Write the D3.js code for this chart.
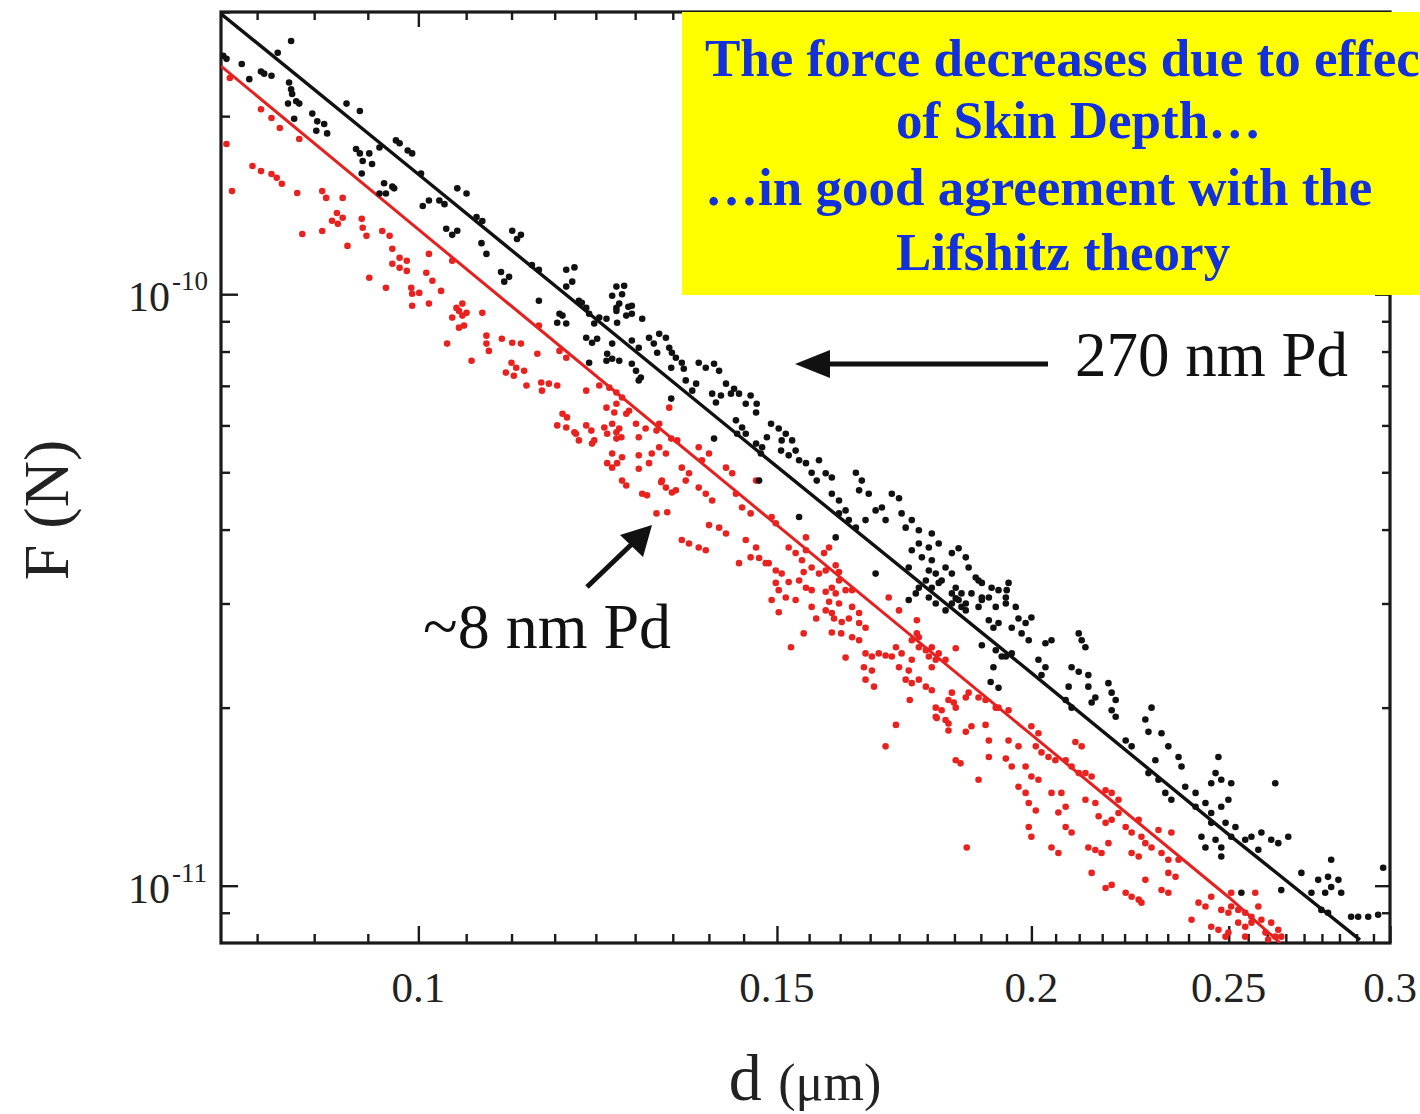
<!DOCTYPE html>
<html>
<head>
<meta charset="utf-8">
<script src="https://cdn.jsdelivr.net/npm/d3@7"></script>
<style>
  body { margin: 0; background: #fff; }
  svg { display: block; }
</style>
</head>
<body>
<svg id="chart" width="1420" height="1114"></svg>
<script>
// separation d (µm) and force F (pN)

// 270 nm Pd film (black)
const pd270 = [
  [0.0866,268],[0.0853,256],[0.0802,253],[0.0805,250],[0.0819,245],[0.0826,231],[0.0837,238],[0.0840,236],
  [0.0847,234],[0.0864,228],[0.0866,222],[0.0867,218],[0.0871,212],[0.0863,210],[0.0874,210],[0.0869,198],
  [0.0887,202],[0.0892,196],[0.0891,189],[0.0899,194],[0.0902,187],[0.0922,210],[0.0936,204],[0.0932,176],
  [0.0936,173],[0.0946,173],[0.0939,168],[0.0949,166],[0.0938,160],[0.0957,177],[0.0975,182],[0.0979,180],
  [0.0988,175],[0.0993,173],[0.0962,154],[0.0971,152],[0.0964,148],[0.0973,151],[0.0957,148],[0.1003,160],
  [0.1012,144],[0.1005,141],[0.1024,144],[0.1030,142],[0.1045,151],[0.1056,148],[0.1032,129],[0.1039,126],
  [0.1045,128],[0.1074,122],[0.1080,117],[0.1068,135],[0.1075,133],[0.1112,128],[0.1123,126],[0.1118,124],
  [0.1098,109],[0.1108,107],[0.1102,105],[0.1137,112],[0.1146,110],[0.1182,110],[0.1193,111],[0.1190,105],
  [0.1182,103],[0.1209,94.8],[0.1199,97.5],[0.1251,103],[0.1259,100],[0.1255,96.4],[0.1273,92.7],[0.1146,97.5],
  [0.1173,92.7],[0.1177,92.0],[0.1170,89.5],[0.1182,89.2],[0.1203,96.7],[0.1213,92.7],[0.1227,91.3],[0.1220,89.2],
  [0.1265,92.0],[0.1251,94.8],[0.1209,84.4],[0.1217,82.8],[0.1224,84.1],[0.1238,79.3],[0.1245,77.8],[0.1237,77.2],
  [0.1273,83.5],[0.1283,81.2],[0.1298,84.4],[0.1313,85.7],[0.1323,84.4],[0.1332,79.6],[0.1279,74.2],[0.1286,72.3],
  [0.1283,71.5],[0.1331,66.6],[0.1213,76.6],[0.1245,99.4],[0.1262,103.3],[0.1268,95.2],[0.1251,93.7],[0.1273,95.6],
  [0.1237,90.9],[0.1252,89.5],[0.1288,90.9],[0.1305,82.5],[0.1328,81.2],[0.1310,79.6],[0.1245,82.5],[0.1255,77.2],
  [0.1338,78.1],[0.1347,76.6],[0.1350,74.8],[0.1331,75.1],[0.1273,76.3],[0.1373,76.6],[0.1384,75.1],[0.1397,76.3],
  [0.1405,74.2],[0.1353,71.5],[0.1369,70.6],[0.1363,68.7],[0.1394,67.9],[0.1408,67.4],[0.1400,65.6],[0.1416,70.6],
  [0.1429,69.2],[0.1424,67.9],[0.1437,67.9],[0.1448,65.3],[0.1456,67.4],[0.1466,65.3],[0.1465,63.1],[0.1432,61.2],
  [0.1442,59.5],[0.1434,58.1],[0.1448,58.1],[0.1397,57.0],[0.1465,55.9],[0.1475,55.1],[0.1473,53.8],[0.1483,57.3],
  [0.1490,60.4],[0.1503,59.3],[0.1515,58.1],[0.1508,56.6],[0.1526,56.6],[0.1507,54.4],[0.1520,53.4],[0.1532,54.4],
  [0.1538,52.4],[0.1550,51.8],[0.1560,49.9],[0.1573,52.4],[0.1569,48.4],[0.1585,49.8],[0.1596,49.0],[0.1640,49.9],
  [0.1651,48.4],[0.1646,46.6],[0.1596,46.0],[0.1609,44.8],[0.1621,43.1],[0.1609,42.6],[0.1627,41.5],[0.1640,40.3],
  [0.1658,41.5],[0.1664,46.0],[0.1677,43.1],[0.1689,43.6],[0.1696,41.5],[0.1708,46.0],[0.1722,45.2],[0.1727,42.6],
  [0.1747,41.5],[0.1735,40.3],[0.1761,39.9],[0.1761,37.9],[0.1781,37.3],[0.1767,35.9],[0.1787,35.5],[0.1795,33.7],
  [0.1815,34.5],[0.1828,33.7],[0.1807,32.8],[0.1787,39.4],[0.1801,37.9],[0.1863,34.5],[0.1878,33.2],[0.1891,32.5],
  [0.1869,31.2],[0.1906,30.7],[0.1927,31.6],[0.1761,31.9],[0.1781,30.7],[0.1795,30.0],[0.1815,29.2],[0.1828,31.2],
  [0.1842,30.4],[0.1857,29.2],[0.1677,33.7],[0.1538,42.0],[0.1603,38.8],[0.1470,48.4],[0.1741,30.4],[0.1755,31.2],
  [0.1775,32.8],[0.1787,31.9],[0.1801,32.5],[0.1836,30.6],[0.1857,30.0],[0.1884,32.8],[0.1912,31.9],[0.1949,32.5],
  [0.1891,30.4],[0.1921,29.6],[0.1943,30.0],[0.1906,28.1],[0.1927,27.8],[0.1891,25.5],[0.1921,25.0],[0.1943,24.4],
  [0.1956,24.7],[0.1910,22.1],[0.1927,21.6],[0.1828,36.5],[0.1842,37.2],[0.1857,35.9],[0.1747,36.9],[0.1741,34.5],
  [0.1781,34.1],[0.1836,31.9],[0.1848,31.2],[0.1828,30.0],[0.1848,29.6],[0.1891,30.7],[0.1884,29.6],[0.1945,31.6],
  [0.1943,30.7],[0.1916,27.3],[0.1965,29.6],[0.1971,28.3],[0.1987,27.8],[0.2000,28.4],[0.1956,27.3],[0.1978,26.7],
  [0.1994,26.0],[0.2032,25.7],[0.2046,26.0],[0.1934,24.4],[0.1916,23.4],[0.2016,24.1],[0.2032,23.4],[0.2023,22.7],
  [0.2110,26.7],[0.2126,25.3],[0.2117,26.0],[0.2093,23.4],[0.2110,23.0],[0.2133,22.7],[0.2086,21.7],[0.2133,21.7],
  [0.2150,20.8],[0.2141,20.4],[0.2190,21.2],[0.2200,20.6],[0.2079,20.6],[0.2093,20.0],[0.2182,22.0],[0.2190,19.8],
  [0.2200,19.3],[0.2291,20.0],[0.2275,19.1],[0.2283,18.2],[0.2317,18.1],[0.2335,17.2],[0.2362,16.5],[0.2370,15.9],
  [0.2225,17.6],[0.2240,17.2],[0.2301,16.3],[0.2283,15.5],[0.2309,15.1],[0.2327,14.35],[0.2343,13.97],[0.2380,14.7],
  [0.2408,14.35],[0.2451,14.9],[0.2471,16.5],[0.2463,15.5],[0.2479,15.1],[0.2507,14.9],[0.2408,13.6],[0.2435,13.8],
  [0.2451,13.27],[0.2479,13.6],[0.2499,13.97],[0.2451,12.77],[0.2491,12.77],[0.2519,12.57],[0.2424,12.1],[0.2435,11.6],
  [0.2463,11.96],[0.2479,11.6],[0.2507,12.1],[0.2547,11.96],[0.2565,12.1],[0.2594,12.3],[0.2623,11.96],[0.2644,11.8],
  [0.2674,12.1],[0.2585,11.5],[0.2635,14.9],[0.2536,9.73],[0.2653,9.83],[0.2714,10.51],[0.2766,10.23],[0.2797,10.35],
  [0.2830,10.23],[0.2807,9.95],[0.2788,9.73],[0.2839,9.73],[0.2807,11.06],[0.2776,9.10],[0.2797,9.00],[0.2871,8.86],
  [0.2894,8.86],[0.2927,8.86],[0.2960,8.93],[0.2977,10.72],[0.2745,9.73],[0.2479,11.2]
];

// ~8 nm Pd film (red)
const pd8 = [
  [0.0808,232],[0.0837,205.5],[0.0847,198.6],[0.0805,179.5],[0.0829,164.7],[0.0837,161.5],[0.0847,159.7],[0.0852,157.3],
  [0.0810,149.4],[0.0857,153.7],[0.0872,148.3],[0.0897,149.4],[0.0901,145.5],[0.0918,145.5],[0.0912,137.2],[0.0918,134.7],
  [0.0907,133.1],[0.0913,131.5],[0.0897,127.9],[0.0877,126.4],[0.0938,134.1],[0.0939,129.5],[0.0943,125.5],[0.0960,127.9],
  [0.0968,125.5],[0.0923,120.7],[0.0946,106.6],[0.0971,119.3],[0.0979,115.2],[0.0987,113.9],[0.0979,110.8],[0.0987,109.5],
  [0.0971,112.6],[0.0964,102.5],[0.0992,102.5],[0.0993,100.2],[0.1001,100.5],[0.1009,108.7],[0.1016,105.4],[0.1026,101.3],
  [0.1051,96.4],[0.1047,93.7],[0.1056,93.0],[0.1075,93.0],[0.1039,113.9],[0.1012,117.0],[0.0855,191.0],[0.0874,183.0],
  [0.0993,95.6],[0.1012,96.4],[0.1044,94.8],[0.1051,92.0],[0.1039,91.3],[0.1053,88.5],[0.1047,87.8],[0.1033,82.5],
  [0.1062,77.2],[0.1080,85.1],[0.1080,82.5],[0.1083,80.2],[0.1099,84.1],[0.1112,82.8],[0.1123,82.5],[0.1146,88.5],
  [0.1111,76.6],[0.1117,75.1],[0.1104,73.7],[0.1114,72.8],[0.1127,74.2],[0.1130,70.1],[0.1144,79.3],[0.1149,70.9],
  [0.1150,68.7],[0.1159,70.6],[0.1170,70.1],[0.1173,80.2],[0.1182,78.1],[0.1209,68.7],[0.1177,62.8],[0.1183,61.9],
  [0.1170,60.0],[0.1182,59.5],[0.1193,58.4],[0.1209,60.0],[0.1216,58.8],[0.1220,56.6],[0.1195,58.1],[0.1199,56.6],
  [0.1217,55.9],[0.1234,59.5],[0.1238,58.1],[0.1251,58.4],[0.1258,57.3],[0.1227,70.1],[0.1251,65.3],[0.1269,63.5],
  [0.1283,57.3],[0.1259,53.0],[0.1252,51.8],[0.1238,51.8],[0.1245,50.9],[0.1283,53.4],[0.1302,53.8],[0.1298,51.8],
  [0.1283,50.7],[0.1259,48.4],[0.1265,47.5],[0.1288,46.0],[0.1295,45.7],[0.1316,48.1],[0.1323,47.1],[0.1332,46.2],
  [0.1309,42.6],[0.1325,42.8],[0.1313,60.4],[0.1328,64.3],[0.1241,69.5],[0.1251,68.2],[0.1259,66.9],[0.1237,64.3],
  [0.1248,63.1],[0.1265,62.8],[0.1245,60.4],[0.1255,59.3],[0.1251,57.0],[0.1279,60.4],[0.1293,59.3],[0.1309,58.8],
  [0.1245,53.8],[0.1323,53.8],[0.1313,55.1],[0.1331,57.0],[0.1340,56.6],[0.1317,48.4],[0.1338,46.6],[0.1347,50.9],
  [0.1358,49.8],[0.1353,48.4],[0.1373,55.1],[0.1389,53.8],[0.1378,52.4],[0.1373,47.1],[0.1384,46.0],[0.1394,44.8],
  [0.1416,50.9],[0.1426,49.8],[0.1347,38.4],[0.1358,37.9],[0.1373,37.3],[0.1384,36.9],[0.1389,40.7],[0.1405,40.3],
  [0.1416,39.4],[0.1432,46.0],[0.1442,43.6],[0.1456,42.6],[0.1465,48.4],[0.1491,42.0],[0.1498,41.0],[0.1437,35.1],
  [0.1448,38.4],[0.1465,37.3],[0.1456,35.9],[0.1486,35.1],[0.1498,34.1],[0.1508,33.7],[0.1520,37.3],[0.1532,36.5],
  [0.1543,35.5],[0.1550,36.9],[0.1503,31.6],[0.1515,30.7],[0.1491,30.4],[0.1560,34.5],[0.1573,33.7],[0.1585,34.1],
  [0.1538,32.8],[0.1550,31.9],[0.1596,31.9],[0.1609,32.8],[0.1621,31.6],[0.1585,29.2],[0.1596,28.9],[0.1550,38.8],
  [0.1591,37.3],[0.1633,29.6],[0.1646,28.9],[0.1702,30.7],[0.1722,29.2],[0.1470,35.8],[0.1481,35.1],[0.1498,32.5],
  [0.1503,29.0],[0.1520,32.6],[0.1532,30.4],[0.1546,33.9],[0.1560,31.6],[0.1560,29.6],[0.1568,28.3],[0.1582,36.5],
  [0.1603,34.8],[0.1609,33.9],[0.1585,31.4],[0.1603,31.2],[0.1591,30.2],[0.1600,28.3],[0.1614,27.9],[0.1633,31.6],
  [0.1609,30.0],[0.1627,28.3],[0.1546,26.7],[0.1524,25.3],[0.1596,26.8],[0.1613,26.7],[0.1633,26.3],[0.1646,26.0],
  [0.1646,27.8],[0.1658,27.3],[0.1621,24.3],[0.1658,24.7],[0.1670,24.4],[0.1683,24.7],[0.1696,24.5],[0.1708,24.4],
  [0.1655,23.4],[0.1670,23.1],[0.1658,22.3],[0.1674,21.7],[0.1722,23.4],[0.1741,23.1],[0.1716,25.3],[0.1727,24.7],
  [0.1757,28.1],[0.1757,26.7],[0.1747,26.0],[0.1761,25.3],[0.1775,25.0],[0.1735,22.3],[0.1747,22.0],[0.1761,22.3],
  [0.1743,20.6],[0.1775,21.7],[0.1787,21.4],[0.1795,20.0],[0.1807,19.8],[0.1797,19.2],[0.1815,19.06],[0.1787,23.4],
  [0.1836,25.2],[0.1828,21.2],[0.1832,20.4],[0.1821,18.3],[0.1857,18.2],[0.1716,18.7],[0.1696,17.2],[0.1836,16.3],
  [0.1846,16.1],[0.1899,18.7],[0.1906,17.6],[0.1906,16.5],[0.1949,17.6],[0.1943,16.4],[0.1884,15.1],[0.1863,21.2],
  [0.1884,20.8],[0.1927,20.0],[0.1949,19.8],[0.1761,26.3],[0.1747,24.1],[0.1787,25.3],[0.1781,24.4],[0.1795,24.1],
  [0.1801,24.7],[0.1815,24.1],[0.1795,19.3],[0.1821,18.8],[0.1821,20.6],[0.1836,20.0],[0.1857,20.8],[0.1899,20.6],
  [0.1921,20.0],[0.1869,18.6],[0.1956,15.9],[0.1971,17.2],[0.2000,18.6],[0.2016,18.1],[0.2010,17.2],[0.2023,16.8],
  [0.2039,16.5],[0.2055,16.3],[0.2079,16.3],[0.2093,15.9],[0.2110,15.5],[0.2126,15.5],[0.2141,15.3],[0.2102,17.5],
  [0.2117,17.2],[0.1987,15.9],[0.2000,15.3],[0.2016,15.1],[0.1971,14.7],[0.1987,14.35],[0.1994,13.8],[0.2010,13.4],
  [0.2046,14.35],[0.2069,14.35],[0.2079,13.6],[0.2062,13.3],[0.2126,13.97],[0.2150,13.8],[0.2175,14.5],[0.2190,14.35],
  [0.2207,13.97],[0.2158,13.1],[0.2175,12.77],[0.2190,12.92],[0.2207,13.27],[0.2079,12.57],[0.2093,12.3],[0.1994,12.57],
  [0.2000,12.1],[0.2046,11.6],[0.2062,11.36],[0.2133,11.6],[0.2150,11.49],[0.2165,11.36],[0.2182,11.8],[0.2225,12.57],
  [0.2240,12.3],[0.2258,12.92],[0.2265,12.1],[0.2275,11.8],[0.2240,11.36],[0.2258,11.2],[0.2291,11.6],[0.2317,11.36],
  [0.2335,11.06],[0.2335,10.51],[0.2354,10.35],[0.2175,9.91],[0.2190,10.03],[0.2225,9.73],[0.2240,9.58],[0.2258,9.47],
  [0.2265,9.36],[0.2317,9.83],[0.2335,9.73],[0.2362,11.06],[0.2416,9.36],[0.2435,9.22],[0.2451,9.58],[0.2479,9.10],
  [0.2499,9.00],[0.2507,9.22],[0.2527,9.10],[0.2547,9.00],[0.2565,8.86],[0.2576,9.73],[0.2585,9.22],[0.2451,8.52],
  [0.2471,8.42],[0.2499,8.33],[0.2527,8.66],[0.2547,8.52],[0.2565,8.66],[0.2594,8.76],[0.2623,8.66],[0.2644,8.42],
  [0.2653,8.20],[0.2635,8.20],[0.2606,8.33],[0.2614,8.11],[0.2547,8.20],[0.2491,8.20],[0.2397,8.76],[0.2507,9.73],
  [0.2275,10.23],[0.2141,10.51],[0.2309,12.42],[0.2343,12.3],[0.1859,11.6]
];

// Lifshitz theory curves (pN)
const theoryD270 = [0.08, 0.1, 0.15, 0.2, 0.25, 0.29];
const theoryF270 = [298, 159.5, 51.1, 22.9, 12.2, 8.1];
const theoryD8 = [0.08, 0.1, 0.15, 0.2, 0.25, 0.265];
const theoryF8 = [243, 128.7, 40.7, 18.0, 9.56, 8.0];

const xLabels = [0.1, 0.15, 0.2, 0.25, 0.3];
const yLabels = [1e-10, 1e-11];
const yMinor = [9e-12, 2e-11, 3e-11, 4e-11, 5e-11, 6e-11, 7e-11, 8e-11, 9e-11, 2e-10, 3e-10];

const svg = d3.select("#chart");
const plotL = 221, plotR = 1390, plotT = 12, plotB = 943;
const serif = "'Liberation Serif', 'Times New Roman', serif";

const x = d3.scaleLog().domain([0.08, 0.3]).range([plotL, plotR]);
const y = d3.scaleLog().domain([8e-12, 3e-10]).range([plotB, plotT]);
const pN = 1e-12;

// minor x ticks: nine steps per 0.05
const xMinor = d3.range(-3, 37).map(k => 0.1 + k * 0.05 / 9)
  .filter(v => v >= 0.08 && v <= 0.3001 && !xLabels.some(m => Math.abs(m - v) < 1e-6));

svg.append("defs").append("clipPath").attr("id", "plot")
  .append("rect").attr("x", plotL).attr("y", plotT)
  .attr("width", plotR - plotL).attr("height", plotB - plotT);

function tickGroup(axis, tx, ty) {
  const g = svg.append("g").attr("transform", `translate(${tx},${ty})`).call(axis);
  g.select(".domain").remove();
  g.selectAll("line").attr("stroke", "#1a1a1a").attr("stroke-width", 2.4);
  g.selectAll("text").remove();
  return g;
}

// ticks on all four sides, pointing inward
tickGroup(d3.axisBottom(x).tickValues(xMinor).tickSize(-9), 0, plotB);
tickGroup(d3.axisBottom(x).tickValues(xLabels).tickSize(-17), 0, plotB);
tickGroup(d3.axisTop(x).tickValues(xMinor).tickSize(-8), 0, plotT);
tickGroup(d3.axisTop(x).tickValues(xLabels).tickSize(-15), 0, plotT);
tickGroup(d3.axisLeft(y).tickValues(yMinor).tickSize(-9), plotL, 0);
tickGroup(d3.axisLeft(y).tickValues(yLabels).tickSize(-17), plotL, 0);
tickGroup(d3.axisRight(y).tickValues(yMinor).tickSize(-8), plotR, 0);
tickGroup(d3.axisRight(y).tickValues(yLabels).tickSize(-15), plotR, 0);

// frame
svg.append("rect")
  .attr("x", plotL).attr("y", plotT)
  .attr("width", plotR - plotL).attr("height", plotB - plotT)
  .attr("fill", "none").attr("stroke", "#1a1a1a").attr("stroke-width", 3.2);

// x tick labels
svg.append("g").selectAll("text")
  .data(xLabels)
  .enter()
  .append("text")
  .attr("x", d => x(d))
  .attr("y", 1002)
  .attr("text-anchor", "middle")
  .style("font-family", serif)
  .style("font-size", "43px")
  .style("fill", "#222")
  .text(d => String(d));

// y tick labels 10^-10, 10^-11
svg.append("g").selectAll("text")
  .data(yLabels)
  .enter()
  .append("text")
  .attr("x", 170)
  .attr("y", d => y(d) + 17)
  .attr("text-anchor", "end")
  .style("font-family", serif)
  .style("font-size", "42px")
  .style("fill", "#222")
  .text("10");
svg.append("g").selectAll("text")
  .data(yLabels)
  .enter()
  .append("text")
  .attr("x", 172)
  .attr("y", d => y(d) - 4)
  .style("font-family", serif)
  .style("font-size", "27px")
  .style("fill", "#222")
  .text(d => "-" + Math.round(-Math.log10(d)));

// axis titles
svg.append("text")
  .attr("transform", "translate(68,510) rotate(-90)")
  .attr("text-anchor", "middle")
  .style("font-family", serif)
  .style("font-size", "64px")
  .style("fill", "#222")
  .text("F (N)");

const xt = svg.append("text")
  .attr("x", 805).attr("y", 1100)
  .attr("text-anchor", "middle")
  .style("font-family", serif)
  .style("fill", "#222");
xt.append("tspan").style("font-size", "66px").text("d ");
xt.append("tspan").style("font-size", "52px").text("(μm)");

// data and theory
const plot = svg.append("g").attr("clip-path", "url(#plot)");

const line = d3.line()
  .x(d => x(d[0]))
  .y(d => y(d[1] * pN));

plot.append("path")
  .datum(theoryD270.map((d, i) => [d, theoryF270[i]]))
  .attr("d", line)
  .attr("fill", "none")
  .attr("stroke", "#111")
  .attr("stroke-width", 3.4);

plot.append("path")
  .datum(theoryD8.map((d, i) => [d, theoryF8[i]]))
  .attr("d", line)
  .attr("fill", "none")
  .attr("stroke", "#e5201f")
  .attr("stroke-width", 3);

plot.append("g").selectAll("circle")
  .data(pd8)
  .enter()
  .append("circle")
  .attr("cx", d => x(d[0]))
  .attr("cy", d => y(d[1] * pN))
  .attr("r", 3.3)
  .attr("fill", "#e8221f");

plot.append("g").selectAll("circle")
  .data(pd270)
  .enter()
  .append("circle")
  .attr("cx", d => x(d[0]))
  .attr("cy", d => y(d[1] * pN))
  .attr("r", 3.3)
  .attr("fill", "#111");

// yellow note box
svg.append("rect")
  .attr("x", 682).attr("y", 12)
  .attr("width", 740).attr("height", 283)
  .attr("fill", "#ffff00");

const note = [
  { t: "The force decreases due to effect", x: 705, y: 76 },
  { t: "of Skin Depth\u2026", x: 896, y: 138 },
  { t: "\u2026in good agreement with the", x: 705, y: 205 },
  { t: "Lifshitz theory", x: 896, y: 270 }
];
svg.append("g").selectAll("text")
  .data(note)
  .enter()
  .append("text")
  .attr("x", d => d.x)
  .attr("y", d => d.y)
  .style("font-family", serif)
  .style("font-weight", "bold")
  .style("font-size", "53px")
  .style("fill", "#1230dc")
  .text(d => d.t);

// annotations
svg.append("text")
  .attr("x", 1075).attr("y", 376)
  .style("font-family", serif)
  .style("font-size", "63px")
  .style("fill", "#111")
  .text("270 nm Pd");

svg.append("line")
  .attr("x1", 1048).attr("y1", 364)
  .attr("x2", 822).attr("y2", 364)
  .attr("stroke", "#111").attr("stroke-width", 5);
svg.append("path")
  .attr("d", "M795,364 L830,350 L830,378 Z")
  .attr("fill", "#111");

svg.append("text")
  .attr("x", 423).attr("y", 648)
  .style("font-family", serif)
  .style("font-size", "64px")
  .style("fill", "#111")
  .text("~8 nm Pd");

svg.append("line")
  .attr("x1", 587).attr("y1", 587)
  .attr("x2", 635).attr("y2", 541)
  .attr("stroke", "#111").attr("stroke-width", 5);
svg.append("path")
  .attr("d", "M652,525 L643,557 L620,535 Z")
  .attr("fill", "#111");
</script>
</body>
</html>
